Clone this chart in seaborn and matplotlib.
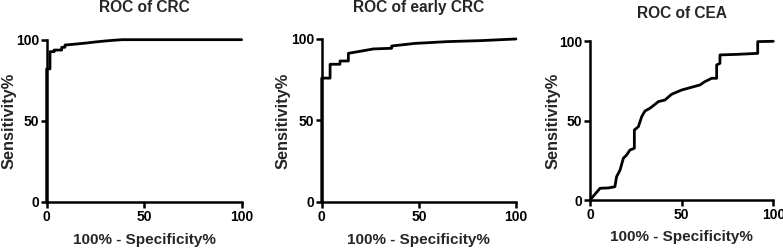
import matplotlib
matplotlib.use("Agg")
import matplotlib.pyplot as plt
import seaborn as sns
import pandas as pd

sns.set_style("ticks")
plt.rcParams['font.family'] = ['Liberation Sans', 'DejaVu Sans']
plt.rcParams['font.weight'] = 'bold'

# ROC of CRC
crc_fpr = [0, 0, 1.7, 1.7, 3.8, 3.8, 7.7, 7.7, 9.4, 9.4, 15, 20, 25, 30, 35, 39, 50, 100]
crc_sens = [0, 82, 82, 92.6, 92.6, 93.6, 93.6, 95.3, 95.3, 96.7, 97.3, 97.9, 98.6, 99.2, 99.7, 100, 100, 100]

# ROC of early CRC
early_fpr = [0, 0, 4.3, 4.3, 9.4, 9.4, 13.7, 13.7, 20, 26.6, 36, 36, 48, 65, 82, 100]
early_sens = [0, 76, 76, 84.5, 84.5, 86.5, 86.5, 91.2, 92.5, 93.9, 94.3, 95.7, 97.3, 98.4, 99, 100]

# ROC of CEA
cea_fpr = [0, 5.5, 10, 13.6, 14.5, 16.4, 18.2, 20, 21.8, 24.2, 24.2, 26.4, 28.2, 30, 32.7,
           35.5, 37.3, 40.9, 44.5, 50, 60, 62.7, 66.4, 69.1, 69.1, 70.9, 70.9, 80.9, 91.5,
           91.5, 100]
cea_sens = [0, 7.4, 7.6, 8.4, 14.7, 18.9, 26.3, 28.4, 31.5, 32.6, 44.1, 46.2, 52.5, 56.1, 57.8,
            60.3, 62, 63, 66.6, 69.3, 72.5, 74.6, 76.7, 76.7, 85.1, 86.1, 91.4, 91.8, 92.4,
            99.8, 100]

titles = ["ROC of CRC", "ROC of early CRC", "ROC of CEA"]
xlabel = "100% - Specificity%"
ylabel = "Sensitivity%"
ticks = [0, 50, 100]

fig = plt.figure(figsize=(7.83, 2.48), dpi=100)
rects = [
    [0.0596, 0.1855, 0.249, 0.6545],
    [0.4109, 0.1855, 0.2481, 0.6573],
    [0.7535, 0.1935, 0.2341, 0.6400],
]
title_y = [1.20, 1.196, 1.176]
ylab_x = [-0.195, -0.199, -0.202]
ylab_y = [0.5, 0.5, 0.5]
xlab_y = [-0.232, -0.231, -0.233]

data = [(crc_fpr, crc_sens), (early_fpr, early_sens), (cea_fpr, cea_sens)]

for i, (xs, ys) in enumerate(data):
    ax = fig.add_axes(rects[i])
    df = pd.DataFrame({"fpr": xs, "sens": ys})
    sns.lineplot(data=df, x="fpr", y="sens", sort=False, estimator=None,
                 color="black", linewidth=2.0, ax=ax, clip_on=False)
    ax.set_xlim(0, 100)
    ax.set_ylim(0, 100)
    ax.set_xticks(ticks)
    ax.set_yticks(ticks)
    ax.set_xticklabels([str(t) for t in ticks], fontsize=10, fontweight='bold')
    ax.set_yticklabels([str(t) for t in ticks], fontsize=10, fontweight='bold')
    ax.tick_params(direction='out', length=4, width=1.8, pad=1.5, colors='black')
    for s in ['top', 'right']:
        ax.spines[s].set_visible(False)
    for s in ['left', 'bottom']:
        ax.spines[s].set_linewidth(1.8)
        ax.spines[s].set_color('black')
    ax.set_xlabel(xlabel, fontsize=11, fontweight='bold', va='center')
    ax.set_ylabel(ylabel, fontsize=11.8, fontweight='bold', va='center')
    ax.xaxis.set_label_coords(0.5, xlab_y[i])
    ax.yaxis.set_label_coords(ylab_x[i], ylab_y[i])
    ax.text(0.5, title_y[i], titles[i], transform=ax.transAxes, ha='center', va='center',
            fontsize=11.2, fontweight='bold')

fig.savefig("out.png", dpi=100)
